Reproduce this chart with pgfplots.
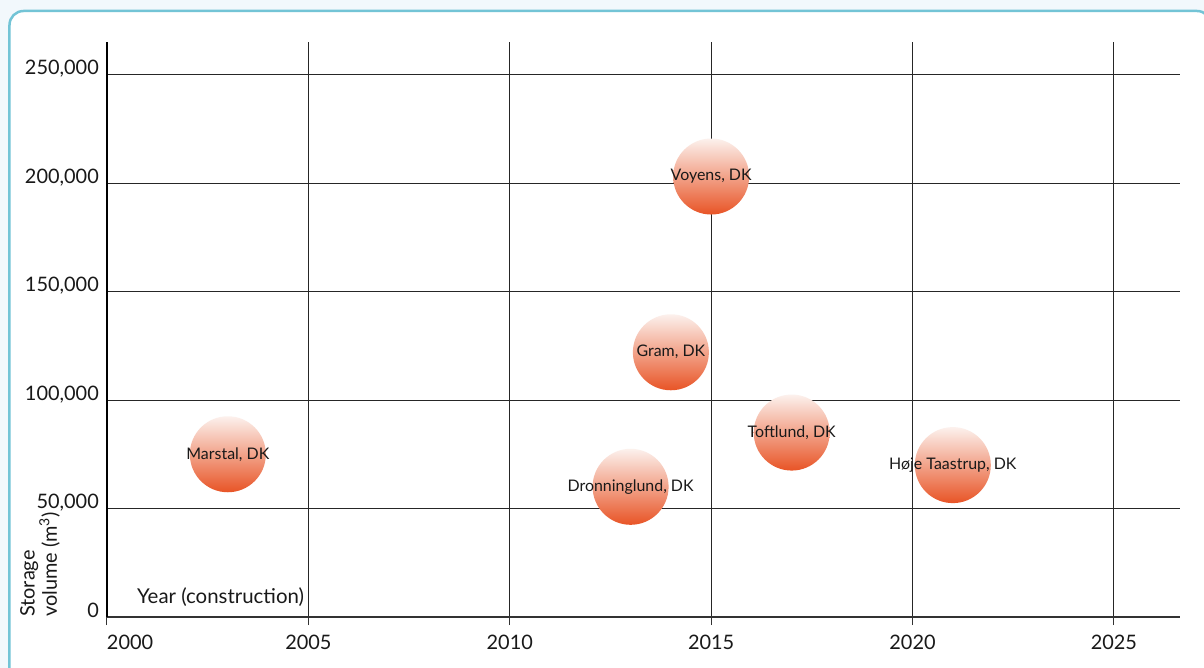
\documentclass[border=0pt]{standalone}
\usepackage{fontspec}
\setmainfont{Lato}
\usepackage{pgfplots}
\usepackage{pgfplotstable}
\pgfplotsset{compat=1.18}
\definecolor{bgblue}{RGB}{242,248,252}
\definecolor{framec}{RGB}{115,196,214}
\definecolor{bubtop}{RGB}{252,241,237}
\definecolor{bubbot}{RGB}{232,84,38}
\pgfplotstableread{
x y label
2003 75000 {Marstal, DK}
2013 60000 {Dronninglund, DK}
2014 122000 {Gram, DK}
2015 203000 {Voyens, DK}
2017 85000 {Toftlund, DK}
2021 70000 {Høje Taastrup, DK}
}\sites
\begin{document}
\begin{tikzpicture}
\fill[bgblue] (-107bp,-51bp) rectangle (1097bp,617bp);
\draw[framec, line width=2.5bp, fill=white, rounded corners=14bp] (-97.5bp,-90bp) rectangle (1104bp,606bp);
\begin{axis}[
  at={(0bp,0bp)}, anchor=south west, scale only axis,
  width=1073bp, height=575bp,
  xmin=2000, xmax=2026.64, ymin=0, ymax=265000,
  axis x line*=bottom, axis y line*=left,
  axis line style={-},
  x axis line style={draw=black!80, line width=2bp},
  y axis line style={draw=black, line width=1.2bp},
  xtick={2000,2005,2010,2015,2020,2025},
  xticklabels={\makebox[0pt][l]{2000},2005,2010,2015,2020,2025},
  ytick={0,50000,100000,150000,200000,250000},
  scaled y ticks=false,
  /pgf/number format/fixed,
  /pgf/number format/1000 sep={,},
  /pgf/number format/assume math mode=true,
  tick align=outside,
  major tick length=8bp,
  xtick style={draw=black!80, line width=1bp},
  ytick style={draw=none},
  grid=major,
  major grid style={draw=black!85, line width=1bp},
  ticklabel style={font=\fontsize{20}{20}\selectfont, text=black!90, inner sep=0pt},
  yticklabel style={anchor=base east},
  xticklabel style={anchor=north, yshift=-10bp},
  axis on top,
  clip=false,
]
\addplot[draw=none, mark=none, point meta=explicit symbolic,
  nodes near coords={\makebox[0pt]{\pgfplotspointmeta}},
  every node near coord/.style={circle, minimum size=76bp, inner sep=0pt,
    top color=bubtop, bottom color=bubbot, anchor=center,
    font=\fontsize{16}{16}\selectfont, text=black!90}]
  table[x=x, y=y, meta=label] {\sites};
\end{axis}
\node[anchor=base west, inner sep=0pt, font=\fontsize{20.5}{20.5}\selectfont, text=black!90] at (30bp,14bp) {Year (construction)};
\node[rotate=90, anchor=south west, inner sep=0pt, align=left, font=\fontsize{20}{19}\selectfont, text=black!90] at (-47bp,0bp) {Storage\\volume (m\textsuperscript{3})};
\pgfresetboundingbox
\useasboundingbox (-107bp,-51bp) rectangle (1097bp,617bp);
\end{tikzpicture}
\end{document}
